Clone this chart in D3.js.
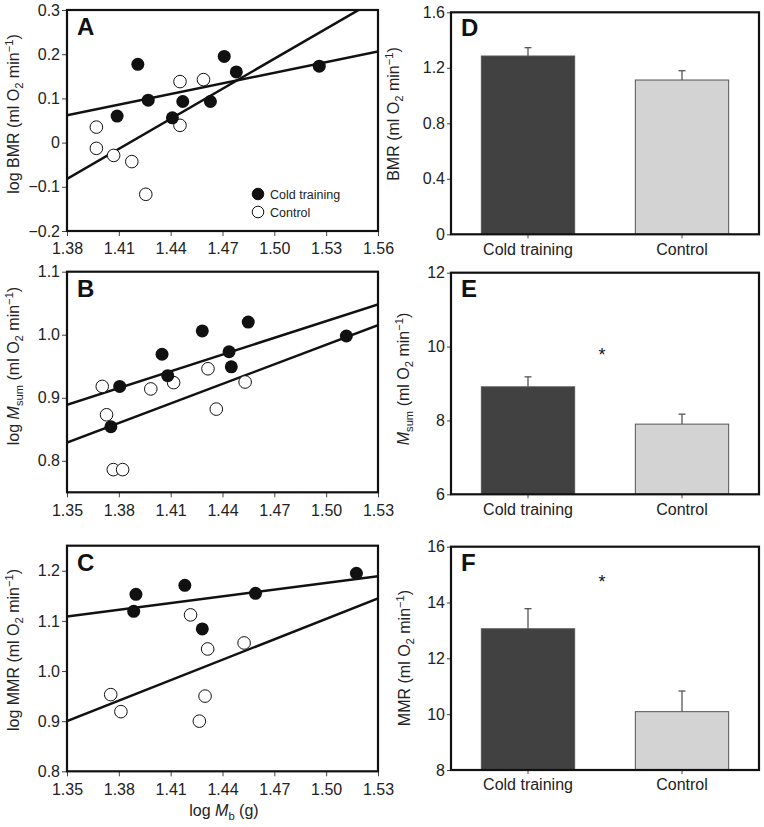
<!DOCTYPE html>
<html>
<head>
<meta charset="utf-8">
<script src="https://cdn.jsdelivr.net/npm/d3@7"></script>
<style>
  html, body { margin: 0; padding: 0; background: #fff; }
  svg { display: block; font-family: "Liberation Sans", Arial, Helvetica, sans-serif; }
</style>
</head>
<body>
<svg id="chart" width="764" height="827"></svg>
<script>
// ---------------- DATA ----------------
// Panel A: log BMR vs log Mb
const aCold = [[1.409,0.060],[1.421,0.177],[1.427,0.096],[1.441,0.056],[1.447,0.093],[1.463,0.093],[1.471,0.195],[1.478,0.160],[1.526,0.173]];
const aControl = [[1.397,0.035],[1.397,-0.013],[1.407,-0.029],[1.4175,-0.043],[1.4256,-0.117],[1.4454,0.138],[1.4454,0.039],[1.459,0.1425]];
const aFits = [[1.38,0.062,1.56,0.206],[1.38,-0.082,1.56,0.3255]];
const aYTicks = [-0.2,-0.1,0,0.1,0.2,0.3];
const aXTicks = [1.38,1.41,1.44,1.47,1.50,1.53,1.56];

// Panel B: log Msum vs log Mb
const bCold = [[1.3805,0.918],[1.3754,0.854],[1.405,0.969],[1.4083,0.935],[1.4283,1.006],[1.4438,0.973],[1.4451,0.949],[1.4549,1.020],[1.5117,0.998]];
const bControl = [[1.3704,0.918],[1.3729,0.873],[1.3768,0.786],[1.3822,0.786],[1.3985,0.914],[1.4117,0.924],[1.4316,0.946],[1.4364,0.882],[1.4531,0.925]];
const bFits = [[1.35,0.889,1.53,1.048],[1.35,0.829,1.53,1.015]];
const bYTicks = [0.8,0.9,1.0,1.1];
const bXTicks = [1.35,1.38,1.41,1.44,1.47,1.50,1.53];

// Panel C: log MMR vs log Mb
const cCold = [[1.3899,1.153],[1.3886,1.119],[1.4182,1.171],[1.4283,1.084],[1.4591,1.155],[1.5175,1.195]];
const cControl = [[1.3753,0.953],[1.3812,0.919],[1.4215,1.112],[1.4314,1.044],[1.4299,0.950],[1.4266,0.900],[1.4525,1.056]];
const cFits = [[1.35,1.109,1.53,1.189],[1.35,0.900,1.53,1.145]];
const cYTicks = [0.8,0.9,1.0,1.1,1.2];
const cXTicks = [1.35,1.38,1.41,1.44,1.47,1.50,1.53];

// Bar panels
const groups = ["Cold training", "Control"];
const bmrMeans = [1.285, 1.112];
const bmrSE = [0.060, 0.067];
const msumMeans = [8.91, 7.90];
const msumSE = [0.27, 0.27];
const mmrMeans = [13.06, 10.09];
const mmrSE = [0.72, 0.74];
const dYTicks = [0, 0.4, 0.8, 1.2, 1.6];
const eYTicks = [6, 8, 10, 12];
const fYTicks = [8, 10, 12, 14, 16];
const eSigLevel = 9.87;
const fSigLevel = 14.88;

const legendLabels = ["Cold training", "Control"];

// ---------------- DRAWING ----------------
const svg = d3.select("#chart");
const FONT = 16;
const minus = s => s.replace("-", "\u2212");

function titleText(g, parts, size) {
  // parts: [text, mode] with mode: "n" normal, "i" italic, "sub", "sup"
  let shift = 0;
  parts.forEach(([t, mode]) => {
    const ts = g.append("tspan").text(t);
    let target = 0;
    if (mode === "sub") { target = 4; ts.attr("font-size", size * 0.7); }
    else if (mode === "sup") { target = -6; ts.attr("font-size", size * 0.7); }
    else if (mode === "isub") { target = 4; ts.attr("font-size", size * 0.7); }
    if (mode === "i") ts.attr("font-style", "italic");
    const dy = target - shift;
    if (dy !== 0) ts.attr("dy", dy);
    shift = target;
  });
}

let clipId = 0;
function scatterPanel(cfg) {
  const x = d3.scaleLinear().domain(cfg.xDomain).range([67, 378]);
  const y = d3.scaleLinear().domain(cfg.yDomain).range([cfg.y1, cfg.y0]);
  const g = svg.append("g");
  const id = "clip" + (clipId++);
  svg.append("clipPath").attr("id", id).append("rect")
    .attr("x", 67).attr("y", cfg.y0).attr("width", 311).attr("height", cfg.y1 - cfg.y0);

  // axes
  const ya = g.append("g").attr("transform", "translate(67,0)")
    .call(d3.axisLeft(y).tickValues(cfg.yTicks).tickSize(5).tickPadding(2).tickFormat(cfg.yFmt));
  const xa = g.append("g").attr("transform", `translate(0,${cfg.y1})`)
    .call(d3.axisBottom(x).tickValues(cfg.xTicks).tickSize(5).tickPadding(7).tickFormat(d3.format(".2f")));
  [ya, xa].forEach(a => {
    a.select(".domain").remove();
    a.selectAll("line").attr("stroke", "#444");
    a.selectAll("text").attr("font-size", FONT).attr("fill", "#222")
      .attr("font-family", '"Liberation Sans", Arial, sans-serif');
  });

  // fit lines
  const fl = g.append("g").attr("clip-path", `url(#${id})`);
  fl.selectAll("line.fit").data(cfg.fits).join("line").attr("class", "fit")
    .attr("x1", d => x(d[0])).attr("y1", d => y(d[1]))
    .attr("x2", d => x(d[2])).attr("y2", d => y(d[3]))
    .attr("stroke", "#111").attr("stroke-width", 2.5);

  // points
  g.selectAll("circle.ctrl").data(cfg.control).join("circle").attr("class", "ctrl")
    .attr("cx", d => x(d[0])).attr("cy", d => y(d[1])).attr("r", 6.3)
    .attr("fill", "#fff").attr("stroke", "#111").attr("stroke-width", 1);
  g.selectAll("circle.cold").data(cfg.cold).join("circle").attr("class", "cold")
    .attr("cx", d => x(d[0])).attr("cy", d => y(d[1])).attr("r", 6.5)
    .attr("fill", "#111");

  // frame
  g.append("rect").attr("x", 67).attr("y", cfg.y0).attr("width", 311).attr("height", cfg.y1 - cfg.y0)
    .attr("fill", "none").attr("stroke", "#111").attr("stroke-width", 2.2);

  // letter
  g.append("text").attr("x", 77).attr("y", cfg.y0 + 25).text(cfg.letter)
    .attr("font-size", 24).attr("font-weight", "bold").attr("fill", "#111");

  // y title
  const t = g.append("text").attr("transform", `translate(19,${cfg.titleY}) rotate(-90)`)
    .attr("text-anchor", "middle").attr("font-size", FONT).attr("fill", "#222");
  titleText(t, cfg.title, FONT);
  return { x, y, g };
}

const fmt1 = d => d === 0 ? "0" : minus(d3.format(".1f")(d));

const A = scatterPanel({ xDomain: [1.38, 1.56], yDomain: [-0.2, 0.3], y0: 10, y1: 231,
  yTicks: aYTicks, xTicks: aXTicks, yFmt: fmt1, fits: aFits, cold: aCold, control: aControl,
  letter: "A", titleY: 114,
  title: [["log BMR (ml O", "n"], ["2", "sub"], [" min", "n"], ["\u22121", "sup"], [")", "n"]] });

// legend in A
const leg = A.g.append("g");
legendLabels.forEach((lab, i) => {
  const cy = 194 + i * 18;
  leg.append("circle").attr("cx", 258).attr("cy", cy).attr("r", 5.8)
    .attr("fill", i === 0 ? "#111" : "#fff").attr("stroke", "#111").attr("stroke-width", 1);
  leg.append("text").attr("x", 270).attr("y", cy + 4.5).text(lab)
    .attr("font-size", 12.5).attr("fill", "#222");
});

scatterPanel({ xDomain: [1.35, 1.53], yDomain: [0.75, 1.1], y0: 271.7, y1: 492.3,
  yTicks: bYTicks, xTicks: bXTicks, yFmt: d3.format(".1f"), fits: bFits, cold: bCold, control: bControl,
  letter: "B", titleY: 366,
  title: [["log ", "n"], ["M", "i"], ["sum", "sub"], [" (ml O", "n"], ["2", "sub"], [" min", "n"], ["\u22121", "sup"], [")", "n"]] });

const C = scatterPanel({ xDomain: [1.35, 1.53], yDomain: [0.8, 1.25], y0: 545.7, y1: 771.3,
  yTicks: cYTicks, xTicks: cXTicks, yFmt: d3.format(".1f"), fits: cFits, cold: cCold, control: cControl,
  letter: "C", titleY: 650,
  title: [["log MMR (ml O", "n"], ["2", "sub"], [" min", "n"], ["\u22121", "sup"], [")", "n"]] });

// x title for C
const xt = svg.append("text").attr("x", 224).attr("y", 816).attr("text-anchor", "middle")
  .attr("font-size", FONT).attr("fill", "#222");
titleText(xt, [["log ", "n"], ["M", "i"], ["b", "sub"], [" (g)", "n"]], FONT);

function barPanel(cfg) {
  const X0 = 451, X1 = 759;
  const x = d3.scaleBand().domain(groups).range([X0, X1]).paddingInner(0.394).paddingOuter(0.197);
  const y = d3.scaleLinear().domain(cfg.yDomain).range([cfg.y1, cfg.y0]);
  const g = svg.append("g");

  const ya = g.append("g").attr("transform", `translate(${X0},0)`)
    .call(d3.axisLeft(y).tickValues(cfg.yTicks).tickSize(4).tickPadding(2).tickFormat(cfg.yFmt));
  const xa = g.append("g").attr("transform", `translate(0,${cfg.y1})`)
    .call(d3.axisBottom(x).tickSize(4).tickPadding(5));
  [ya, xa].forEach(a => {
    a.select(".domain").remove();
    a.selectAll("line").attr("stroke", "#444");
    a.selectAll("text").attr("font-size", FONT).attr("fill", "#222")
      .attr("font-family", '"Liberation Sans", Arial, sans-serif');
  });

  const data = groups.map((k, i) => ({ k, m: cfg.means[i], se: cfg.se[i], i }));
  // error bars
  const eb = g.selectAll("g.eb").data(data).join("g").attr("class", "eb");
  eb.append("line")
    .attr("x1", d => x(d.k) + x.bandwidth() / 2).attr("x2", d => x(d.k) + x.bandwidth() / 2)
    .attr("y1", d => y(d.m)).attr("y2", d => y(d.m + d.se))
    .attr("stroke", "#555").attr("stroke-width", 1.3);
  eb.append("line")
    .attr("x1", d => x(d.k) + x.bandwidth() / 2 - 3.5).attr("x2", d => x(d.k) + x.bandwidth() / 2 + 3.5)
    .attr("y1", d => y(d.m + d.se)).attr("y2", d => y(d.m + d.se))
    .attr("stroke", "#555").attr("stroke-width", 1.3);
  // bars
  g.selectAll("rect.bar").data(data).join("rect").attr("class", "bar")
    .attr("x", d => x(d.k)).attr("width", x.bandwidth())
    .attr("y", d => y(d.m)).attr("height", d => cfg.y1 - y(d.m))
    .attr("fill", d => d.i === 0 ? "#414141" : "#d3d3d3")
    .attr("stroke", d => d.i === 0 ? "#555" : "#555").attr("stroke-width", 1);

  if (cfg.sig !== undefined) {
    const mid = (x(groups[0]) + x(groups[1]) + x.bandwidth()) / 2;
    g.append("text").attr("x", mid - 3).attr("y", y(cfg.sig) + 10).attr("text-anchor", "middle")
      .attr("font-size", 18).attr("fill", "#111").text("*");
  }

  g.append("rect").attr("x", X0).attr("y", cfg.y0).attr("width", X1 - X0).attr("height", cfg.y1 - cfg.y0)
    .attr("fill", "none").attr("stroke", "#111").attr("stroke-width", 2.2);

  g.append("text").attr("x", 461).attr("y", cfg.y0 + 24).text(cfg.letter)
    .attr("font-size", 24).attr("font-weight", "bold").attr("fill", "#111");

  const t = g.append("text").attr("transform", `translate(${cfg.titleX},${cfg.titleY}) rotate(-90)`)
    .attr("text-anchor", "middle").attr("font-size", FONT).attr("fill", "#222");
  titleText(t, cfg.title, FONT);
}

barPanel({ yDomain: [0, 1.6], y0: 12.3, y1: 234.3, yTicks: dYTicks,
  yFmt: d => d === 0 ? "0" : d3.format(".1f")(d), means: bmrMeans, se: bmrSE,
  letter: "D", titleX: 399, titleY: 114,
  title: [["BMR (ml O", "n"], ["2", "sub"], [" min", "n"], ["\u22121", "sup"], [")", "n"]] });

barPanel({ yDomain: [6, 12], y0: 272.7, y1: 494.3, yTicks: eYTicks,
  yFmt: d3.format("d"), means: msumMeans, se: msumSE, sig: eSigLevel,
  letter: "E", titleX: 409, titleY: 379,
  title: [["M", "i"], ["sum", "sub"], [" (ml O", "n"], ["2", "sub"], [" min", "n"], ["\u22121", "sup"], [")", "n"]] });

barPanel({ yDomain: [8, 16], y0: 546.7, y1: 770, yTicks: fYTicks,
  yFmt: d3.format("d"), means: mmrMeans, se: mmrSE, sig: fSigLevel,
  letter: "F", titleX: 410, titleY: 658,
  title: [["MMR (ml O", "n"], ["2", "sub"], [" min", "n"], ["\u22121", "sup"], [")", "n"]] });
</script>
</body>
</html>
